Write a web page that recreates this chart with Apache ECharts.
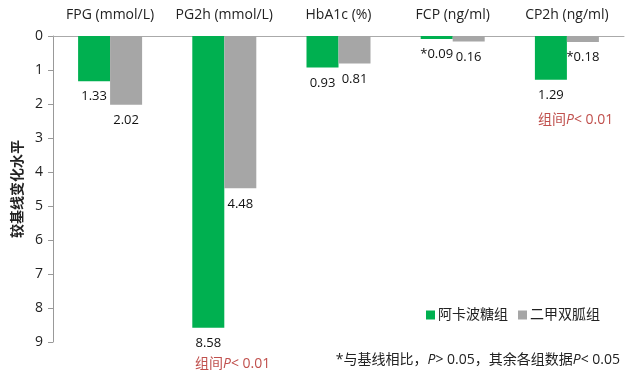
<!DOCTYPE html>
<html><head><meta charset="utf-8">
<script src="https://cdn.jsdelivr.net/npm/echarts@6/dist/echarts.min.js"></script>
<style>html,body{margin:0;padding:0;background:#fff}#c{width:640px;height:379px}</style>
</head><body><div id="c"></div>
<script>
const categories = ['FPG (mmol/L)', 'PG2h (mmol/L)', 'HbA1c (%)', 'FCP (ng/ml)', 'CP2h (ng/ml)'];
const acarbose = [1.33, 8.58, 0.93, 0.09, 1.29];
const metformin = [2.02, 4.48, 0.81, 0.16, 0.18];
const acarboseLabels = ['1.33', '8.58', '0.93', '*0.09', '1.29'];
const metforminLabels = ['2.02', '4.48', '0.81', '0.16', '*0.18'];
const yTicks = [0, 1, 2, 3, 4, 5, 6, 7, 8, 9];
const seriesNames = ['阿卡波糖组', '二甲双胍组'];

const FONT = '"Open Sans", "Noto Sans CJK SC", sans-serif';
const RED = '#c0504d';
const chart = echarts.init(document.getElementById('c'));
chart.setOption({
  animation: false,
  textStyle: { fontFamily: FONT },
  grid: { left: 53, right: 16, top: 36, bottom: 37 },
  legend: {
    data: seriesNames,
    right: 35, top: 303,
    itemWidth: 9, itemHeight: 9, itemGap: 10,
    icon: 'rect',
    textStyle: { fontSize: 14, color: '#222', fontFamily: FONT, padding: [0, 0, 0, -2] }
  },
  xAxis: {
    type: 'category', position: 'top', data: categories,
    axisLine: { lineStyle: { color: '#aaa' } },
    axisTick: { inside: true, length: 5, lineStyle: { color: '#aaa' } },
    axisLabel: { interval: 0, margin: 14, fontSize: 14, color: '#222', fontFamily: FONT }
  },
  yAxis: {
    type: 'value', inverse: true, min: 0, max: 9, interval: 1,
    name: '较基线变化水平', nameLocation: 'middle', nameRotate: 90, nameGap: 29,
    nameTextStyle: { fontSize: 14, fontWeight: 'bold', color: '#222', fontFamily: '"Noto Sans CJK SC", sans-serif' },
    axisLine: { show: true, lineStyle: { color: '#999' } },
    axisTick: { show: true, length: 5, lineStyle: { color: '#999' } },
    splitLine: { show: false },
    axisLabel: { fontSize: 14, color: '#222', margin: 10, fontFamily: FONT,
      formatter: v => yTicks.includes(v) ? String(v) : '' }
  },
  series: [
    { name: seriesNames[0], type: 'bar', data: acarbose, barWidth: 32, barGap: '0%',
      itemStyle: { color: '#00b050' },
      label: { show: true, position: 'bottom', distance: 9, fontSize: 13, color: '#111', fontFamily: FONT,
        formatter: p => acarboseLabels[p.dataIndex] } },
    { name: seriesNames[1], type: 'bar', data: metformin, barWidth: 32,
      itemStyle: { color: '#a6a6a6' },
      label: { show: true, position: 'bottom', distance: 9, fontSize: 13, color: '#111', fontFamily: FONT,
        formatter: p => metforminLabels[p.dataIndex] } }
  ],
  graphic: [
    { type: 'text', left: 195, top: 357, style: {
      text: '{a|组间}{p|P}{a|< 0.01}', rich: {
        a: { fontSize: 14, fill: RED, fontFamily: FONT },
        p: { fontSize: 14, fill: RED, fontStyle: 'italic', fontFamily: FONT } } } },
    { type: 'text', left: 538, top: 113, style: {
      text: '{a|组间}{p|P}{a|< 0.01}', rich: {
        a: { fontSize: 14, fill: RED, fontFamily: FONT },
        p: { fontSize: 14, fill: RED, fontStyle: 'italic', fontFamily: FONT } } } },
    { type: 'text', right: 20, top: 353, style: {
      text: '{a|*与基线相比，}{p|P}{a|> 0.05，其余各组数据}{p|P}{a|< 0.05}', rich: {
        a: { fontSize: 14, fill: '#222', fontFamily: FONT },
        p: { fontSize: 14, fill: '#222', fontStyle: 'italic', fontFamily: FONT } } } }
  ]
});
</script></body></html>
